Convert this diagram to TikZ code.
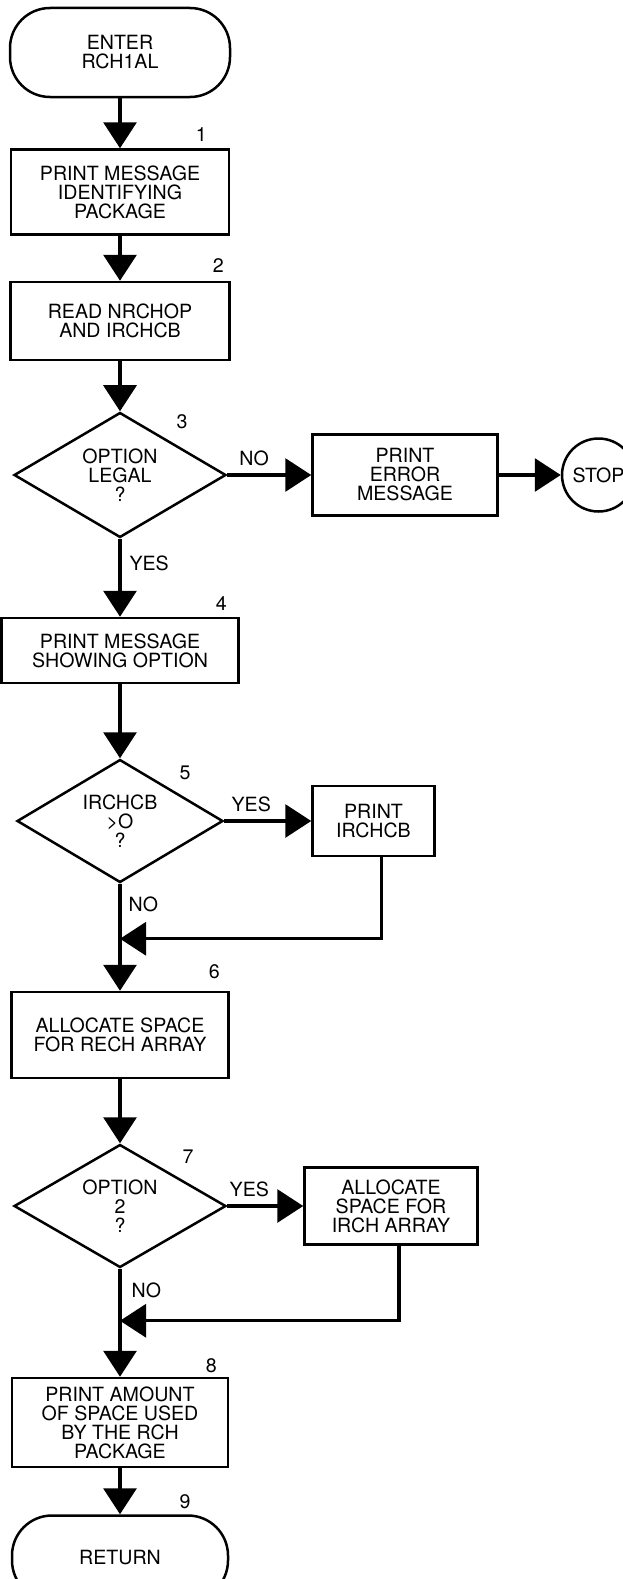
\documentclass[tikz,border=0pt]{standalone}
\usepackage{fontspec}
\setmainfont{TeX Gyre Heros}
\usetikzlibrary{shapes.geometric, arrows.meta, positioning}

\begin{document}
\begin{tikzpicture}[
      x=1pt, y=-1pt,
      every node/.style={font=\fontsize{19.6}{19}\selectfont, align=center},
      box/.style={draw, line width=2.5pt, inner sep=2pt},
      proc/.style={box, rectangle},
      term/.style={box, rectangle, rounded corners=40pt, minimum width=220pt},
      decide/.style={box, diamond, aspect=2, inner sep=0pt, minimum width=212pt, minimum height=125pt},
      stopc/.style={box, circle, inner sep=0pt, minimum size=73pt},
      num/.style={inner sep=0pt},
      tag/.style={inner sep=0pt},
      flow/.style={-{Triangle[length=26pt, width=33pt]}, line width=3.2pt}
  ]
      \useasboundingbox (0,0) rectangle (623,1579);

      % Main column
      \node[term, minimum height=89pt] (enter) at (120,52.5) {ENTER\\RCH1AL};
      \node[proc, minimum width=218pt, minimum height=85pt, below=50pt of enter] (prmsg) {PRINT MESSAGE\\IDENTIFYING\\PACKAGE};
      \node[proc, minimum width=219pt, minimum height=78pt, below=45pt of prmsg] (read) {READ NRCHOP\\AND IRCHCB};
      \node[decide, below=50pt of read] (legal) {OPTION\\LEGAL\\?};
      \node[proc, minimum width=237pt, minimum height=65pt, below=78pt of legal] (showopt) {PRINT MESSAGE\\SHOWING OPTION};
      \node[decide, minimum width=206pt, minimum height=123pt, below=74pt of showopt] (cbpos) {IRCHCB\\>O\\?};
      \node[proc, minimum width=217pt, minimum height=86pt, below=107pt of cbpos] (allrech) {ALLOCATE SPACE\\FOR RECH ARRAY};
      \node[decide, minimum height=123pt, below=64pt of allrech] (opt2) {OPTION\\2\\?};
      \node[proc, minimum width=216pt, minimum height=89pt, below=108pt of opt2] (prspace) {PRINT AMOUNT\\OF SPACE USED\\BY THE RCH\\PACKAGE};
      \node[term, minimum width=216pt, minimum height=85pt, below=46pt of prspace] (ret) {RETURN};

      % Side branches
      \node[proc, minimum width=185pt, minimum height=81pt, right=84pt of legal] (err) {PRINT\\ERROR\\MESSAGE};
      \node[stopc, right=62pt of err] (stop) {STOP};
      \node[proc, minimum width=122pt, minimum height=70pt, right=87pt of cbpos] (prcb) {PRINT\\IRCHCB};
      \node[proc, minimum width=173pt, minimum height=77pt, right=76pt of opt2] (allirch) {ALLOCATE\\SPACE FOR\\IRCH ARRAY};

      % Merge points
      \coordinate[below=55pt of cbpos] (j5);
      \coordinate[below=52pt of opt2] (j7);

      % Step numbers
      \node[num] at ([xshift=-29pt, yshift=14pt]prmsg.north east) {1};
      \node[num] at ([xshift=-12.5pt, yshift=15pt]read.north east) {2};
      \node[num] at ([xshift=62pt, yshift=-10pt]legal.north) {3};
      \node[num] at ([xshift=-18.5pt, yshift=13pt]showopt.north east) {4};
      \node[num] at ([xshift=65pt, yshift=-15pt]cbpos.north) {5};
      \node[num] at ([xshift=-15.5pt, yshift=19pt]allrech.north east) {6};
      \node[num] at ([xshift=68pt, yshift=-13pt]opt2.north) {7};
      \node[num] at ([xshift=-18pt, yshift=11pt]prspace.north east) {8};
      \node[num] at ([xshift=65pt, yshift=13pt]ret.north) {9};

      % Connectors
      \draw[flow] (enter) -- (prmsg);
      \draw[flow] (prmsg) -- (read);
      \draw[flow] (read) -- (legal);
      \draw[flow] (legal) -- node[tag, above=8pt, pos=0.32] {NO} (err);
      \draw[flow] (err) -- (stop);
      \draw[flow] (legal) -- node[tag, right=8pt, pos=0.32] {YES} (showopt);
      \draw[flow] (showopt) -- (cbpos);
      \draw[flow] (cbpos) -- node[tag, above=8pt, pos=0.31] {YES} (prcb);
      \draw[flow] (cbpos) -- node[tag, right=7pt, pos=0.19] {NO} (allrech);
      \draw[flow] ([xshift=8pt]prcb.south) |- (j5);
      \draw[flow] (allrech) -- (opt2);
      \draw[flow] (opt2) -- node[tag, above=8pt, pos=0.29] {YES} (allirch);
      \draw[flow] (opt2) -- node[tag, right=10pt, pos=0.2] {NO} (prspace);
      \draw[flow] ([xshift=8pt]allirch.south) |- (j7);
      \draw[flow] (prspace) -- (ret);
  \end{tikzpicture}
\end{document}
